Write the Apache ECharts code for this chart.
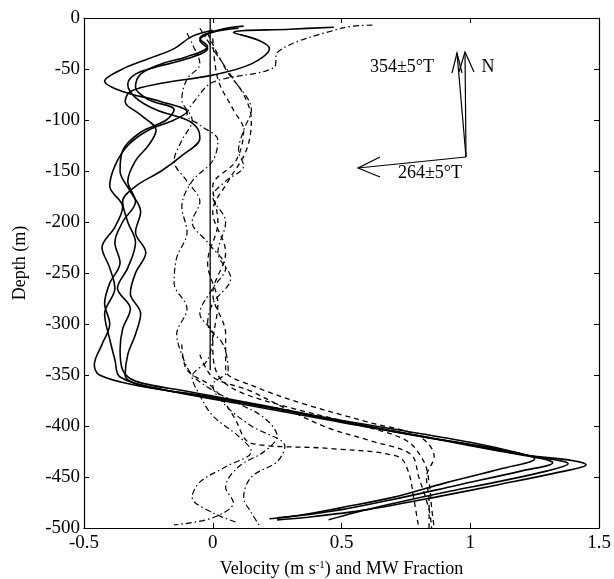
<!DOCTYPE html>
<html>
<head>
<meta charset="utf-8">
<script src="https://cdn.jsdelivr.net/npm/echarts@6/dist/echarts.min.js"></script>
<style>
  html, body { margin: 0; padding: 0; background: #fff; }
  #chart { width: 614px; height: 579px; }
</style>
</head>
<body>
<div id="chart"></div>
<script>
// velocity profiles (solid), [velocity, depth]
var velA = [[0.47,-9],[0.3,-11],[0.08,-14],[0.18,-22],[0.22,-30],[0.15,-45],[0.0,-56],[-0.2,-64],[-0.32,-72],[-0.34,-82],[-0.28,-95],[-0.22,-110],[-0.25,-125],[-0.3,-140],[-0.33,-160],[-0.3,-180],[-0.35,-200],[-0.38,-220],[-0.36,-240],[-0.4,-260],[-0.42,-280],[-0.4,-300],[-0.43,-320],[-0.46,-340],[-0.44,-350],[-0.3,-360],[0.0,-372],[0.3,-385],[0.6,-400],[0.9,-414],[1.2,-428],[1.4,-434],[1.45,-438],[1.35,-445],[1.1,-458],[0.9,-468],[0.6,-482],[0.35,-490],[0.25,-492]];
var velB = [[0.1,-10],[0.0,-14],[-0.05,-22],[-0.02,-30],[-0.1,-40],[-0.22,-48],[-0.3,-55],[-0.33,-65],[-0.3,-78],[-0.22,-90],[-0.1,-100],[-0.06,-108],[-0.05,-118],[-0.12,-135],[-0.2,-150],[-0.3,-165],[-0.35,-180],[-0.33,-200],[-0.3,-220],[-0.33,-245],[-0.37,-265],[-0.32,-285],[-0.35,-305],[-0.36,-325],[-0.35,-345],[-0.3,-356],[-0.1,-366],[0.2,-380],[0.5,-396],[0.85,-412],[1.1,-424],[1.28,-432],[1.32,-436],[1.2,-444],[0.95,-458],[0.7,-472],[0.5,-482],[0.3,-489],[0.22,-491]];
var velC = [[0.0,-12],[-0.08,-18],[-0.15,-30],[-0.25,-40],[-0.35,-50],[-0.42,-62],[-0.35,-72],[-0.2,-82],[-0.1,-92],[-0.15,-100],[-0.25,-110],[-0.33,-125],[-0.38,-145],[-0.4,-165],[-0.35,-185],[-0.38,-205],[-0.43,-225],[-0.4,-245],[-0.38,-265],[-0.42,-290],[-0.4,-315],[-0.38,-335],[-0.36,-352],[-0.2,-364],[0.1,-378],[0.45,-394],[0.8,-410],[1.05,-420],[1.25,-430],[1.38,-437],[1.3,-444],[1.1,-455],[0.92,-464],[0.7,-476],[0.55,-485],[0.45,-492]];
var velD = [[0.12,-8],[0.02,-12],[-0.05,-20],[-0.02,-28],[-0.1,-38],[-0.2,-45],[-0.28,-55],[-0.3,-68],[-0.25,-80],[-0.15,-90],[-0.18,-100],[-0.28,-112],[-0.35,-130],[-0.36,-150],[-0.32,-170],[-0.28,-190],[-0.3,-210],[-0.26,-230],[-0.3,-250],[-0.32,-270],[-0.28,-290],[-0.3,-310],[-0.33,-330],[-0.34,-350],[-0.28,-360],[0.0,-372],[0.35,-388],[0.7,-403],[1.0,-416],[1.18,-426],[1.25,-432],[1.12,-442],[0.9,-456],[0.7,-470],[0.5,-480],[0.35,-487],[0.25,-490]];

// MW fraction profiles (dashed)
var mwA = [[0.0,-20],[0.02,-60],[0.08,-90],[0.12,-110],[0.09,-140],[0.0,-165],[0.02,-200],[-0.02,-240],[0.02,-280],[0.0,-320],[0.02,-350],[0.1,-366],[0.3,-382],[0.55,-398],[0.75,-414],[0.82,-435],[0.84,-455],[0.85,-480],[0.86,-500]];
var mwB = [[-0.02,-15],[0.05,-50],[0.12,-75],[0.15,-100],[0.13,-130],[0.06,-160],[0.0,-190],[0.05,-230],[0.0,-270],[0.05,-310],[0.05,-345],[0.15,-360],[0.35,-378],[0.6,-396],[0.8,-410],[0.86,-430],[0.83,-450],[0.84,-475],[0.84,-500]];
var mwC = [[-0.12,-320],[-0.1,-345],[0.0,-362],[0.08,-390],[0.15,-417],[0.45,-422],[0.72,-430],[0.76,-445],[0.78,-470],[0.8,-500]];
var mwD = [[-0.05,-330],[0.0,-352],[0.14,-365],[0.3,-385],[0.45,-402],[0.62,-415],[0.77,-428],[0.8,-450],[0.84,-482],[0.85,-500]];

// other profiles (dash-dot)
var ddA = [[0.62,-7],[0.5,-10],[0.25,-34],[0.24,-48],[0.0,-63],[-0.06,-78],[-0.1,-95],[-0.05,-105],[0.02,-120],[0.0,-140],[-0.08,-160],[-0.12,-185],[-0.1,-210],[-0.14,-235],[-0.15,-260],[-0.1,-285],[-0.14,-310],[-0.12,-330],[-0.08,-350],[0.0,-365],[0.1,-378],[0.2,-392],[0.25,-410],[0.2,-425],[0.1,-440],[0.05,-460],[0.08,-475],[0.0,-490],[-0.15,-497]];
var ddB = [[-0.1,-15],[-0.08,-25],[-0.05,-45],[-0.1,-60],[-0.12,-80],[-0.08,-100],[-0.12,-120],[-0.15,-140],[-0.1,-160],[-0.05,-180],[-0.08,-200],[-0.02,-220],[0.05,-245],[0.0,-265],[-0.05,-290],[0.0,-310],[-0.02,-335],[-0.08,-352],[-0.05,-370],[0.0,-390],[0.1,-410],[0.15,-425],[0.05,-440],[-0.05,-455],[-0.08,-470],[0.0,-485],[0.1,-495]];
var ddC = [[-0.05,-10],[0.0,-30],[0.08,-60],[0.15,-90],[0.12,-110],[0.1,-130],[0.12,-145],[0.05,-160],[0.0,-175],[0.05,-200],[0.02,-230],[0.07,-255],[0.0,-280],[-0.02,-300],[0.04,-320],[0.06,-345],[0.0,-360],[0.05,-380],[0.15,-400],[0.28,-420],[0.25,-435],[0.15,-450],[0.12,-470],[0.15,-485],[0.18,-497]];

// zero line
var zeroLine = [[-0.01,0],[-0.01,-345]];

var xTicks = { min: -0.5, max: 1.5, step: 0.5 };
var yTicks = { min: -500, max: 0, step: 50 };

var font = 'Liberation Serif';
var chart = echarts.init(document.getElementById('chart'));

function prof(data, type, width) {
  return {
    type: 'line', data: data, showSymbol: false, smooth: 0.35,
    xAxisIndex: 0, yAxisIndex: 0, silent: true,
    lineStyle: { color: '#000', width: width, type: type }
  };
}

var axisCommon = {
  axisLine: { show: true, onZero: false, lineStyle: { color: '#000', width: 1.2 } },
  axisTick: { show: true, inside: true, length: 5, lineStyle: { color: '#000' } },
  splitLine: { show: false }
};

chart.setOption({
  animation: false,
  grid: { left: 84, right: 15, top: 18, bottom: 51, outerBoundsMode: 'none', containLabel: false },
  xAxis: [
    Object.assign({
      type: 'value', min: xTicks.min, max: xTicks.max, interval: xTicks.step,
      position: 'bottom',
      name: '{t|Velocity (m s}{s|-1}{t|) and MW Fraction}',
      nameLocation: 'middle', nameGap: 32,
      nameTextStyle: { rich: {
        t: { fontFamily: font, fontSize: 18, color: '#000' },
        s: { fontFamily: font, fontSize: 11, color: '#000', verticalAlign: 'top', padding: [0, 0, 8, 0] }
      } },
      axisLabel: { fontFamily: font, fontSize: 19, color: '#000', margin: 6 }
    }, axisCommon),
    Object.assign({
      type: 'value', min: xTicks.min, max: xTicks.max, interval: xTicks.step,
      position: 'top', axisLabel: { show: false }
    }, axisCommon)
  ],
  yAxis: [
    Object.assign({
      type: 'value', min: yTicks.min, max: yTicks.max, interval: yTicks.step,
      position: 'left',
      name: 'Depth (m)', nameLocation: 'middle', nameGap: 55, nameRotate: 90,
      nameTextStyle: { fontFamily: font, fontSize: 18, color: '#000', padding: [0, 0, 0, 20] },
      axisLabel: { fontFamily: font, fontSize: 19, color: '#000', margin: 4 }
    }, axisCommon),
    Object.assign({
      type: 'value', min: yTicks.min, max: yTicks.max, interval: yTicks.step,
      position: 'right', axisLabel: { show: false }
    }, axisCommon)
  ],
  series: [
    prof(velA, 'solid', 1.6), prof(velB, 'solid', 1.6),
    prof(velC, 'solid', 1.6), prof(velD, 'solid', 1.6),
    prof(mwA, [5, 4], 1.3), prof(mwB, [5, 4], 1.3),
    prof(mwC, [5, 4], 1.3), prof(mwD, [5, 4], 1.3),
    prof(ddA, [6, 3, 1.5, 3], 1.2), prof(ddB, [6, 3, 1.5, 3], 1.2),
    prof(ddC, [6, 3, 1.5, 3], 1.2),
    { type: 'line', data: zeroLine, showSymbol: false, silent: true,
      lineStyle: { color: '#000', width: 1.3 } }
  ],
  graphic: [
    // direction arrows annotation
    { type: 'polyline', shape: { points: [[466, 157], [457, 53]] }, style: { stroke: '#000', lineWidth: 1.2, fill: null } },
    { type: 'polyline', shape: { points: [[452, 73], [457, 53], [462, 73]] }, style: { stroke: '#000', lineWidth: 1.2, fill: null } },
    { type: 'polyline', shape: { points: [[466, 157], [465, 52]] }, style: { stroke: '#000', lineWidth: 1.2, fill: null } },
    { type: 'polyline', shape: { points: [[459, 72], [465, 52], [474, 72]] }, style: { stroke: '#000', lineWidth: 1.2, fill: null } },
    { type: 'polyline', shape: { points: [[466, 157], [358, 168]] }, style: { stroke: '#000', lineWidth: 1.2, fill: null } },
    { type: 'polyline', shape: { points: [[380, 157], [358, 168], [380, 177]] }, style: { stroke: '#000', lineWidth: 1.2, fill: null } },
    { type: 'text', x: 402, y: 67, style: { text: '354±5°T', fontFamily: font, fontSize: 18, fill: '#000', align: 'center', verticalAlign: 'middle' } },
    { type: 'text', x: 488, y: 67, style: { text: 'N', fontFamily: font, fontSize: 18, fill: '#000', align: 'center', verticalAlign: 'middle' } },
    { type: 'text', x: 430, y: 173, style: { text: '264±5°T', fontFamily: font, fontSize: 18, fill: '#000', align: 'center', verticalAlign: 'middle' } }
  ]
});
</script>
</body>
</html>
